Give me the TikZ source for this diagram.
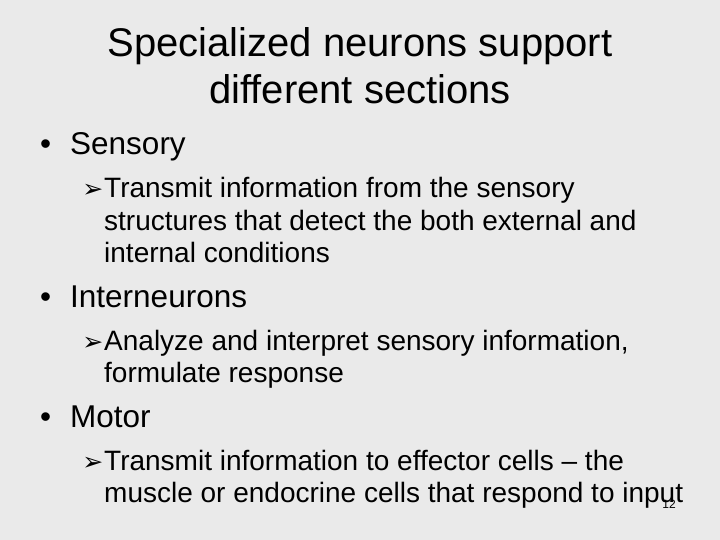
\documentclass[tikz,border=0pt]{standalone}
\usepackage{fontspec}
\setmainfont{Liberation Sans}
\newfontfamily\djv{DejaVu Sans}
\newcommand{\arrmark}{\llap{\djv\fontsize{25}{25}\selectfont ➢\kern1pt}}
\begin{document}
\begin{tikzpicture}[x=1pt,y=-1pt,
  title/.style={anchor=base,font=\fontsize{40}{40}\selectfont,inner sep=0pt},
  lvl1/.style={anchor=base west,font=\fontsize{31.5}{31.5}\selectfont,inner sep=0pt},
  lvl2/.style={anchor=base west,font=\fontsize{28}{28}\selectfont,inner sep=0pt}]
\fill[fill={rgb,255:red,234;green,234;blue,234}] (0,0) rectangle (720,540);
\useasboundingbox (0,0) rectangle (720,540);
\node[title] (t1) at (360,57) {Specialized neurons support};
\node[title] (t2) at (360,104) {different sections};
\node[lvl1] (b1) at (40,155) {•};
\node[lvl1] (s) at (70,155) {Sensory};
\node[lvl2] (s1) at (104,197) {\arrmark Transmit information from the sensory};
\node[lvl2] (s2) at (104,230) {structures that detect the both external and};
\node[lvl2] (s3) at (104,262) {internal conditions};
\node[lvl1] (b2) at (40,307) {•};
\node[lvl1] (i) at (70,307) {Interneurons};
\node[lvl2] (i1) at (104,350) {\arrmark Analyze and interpret sensory information,};
\node[lvl2] (i2) at (104,382) {formulate response};
\node[lvl1] (b3) at (40,427) {•};
\node[lvl1] (m) at (70,427) {Motor};
\node[lvl2] (m1) at (104,470) {\arrmark Transmit information to effector cells -- the};
\node[lvl2] (m2) at (104,502) {muscle or endocrine cells that respond to input};
\node[anchor=base,font=\fontsize{12}{12}\selectfont,inner sep=0pt] (n) at (669,508) {12};
\end{tikzpicture}
\end{document}
